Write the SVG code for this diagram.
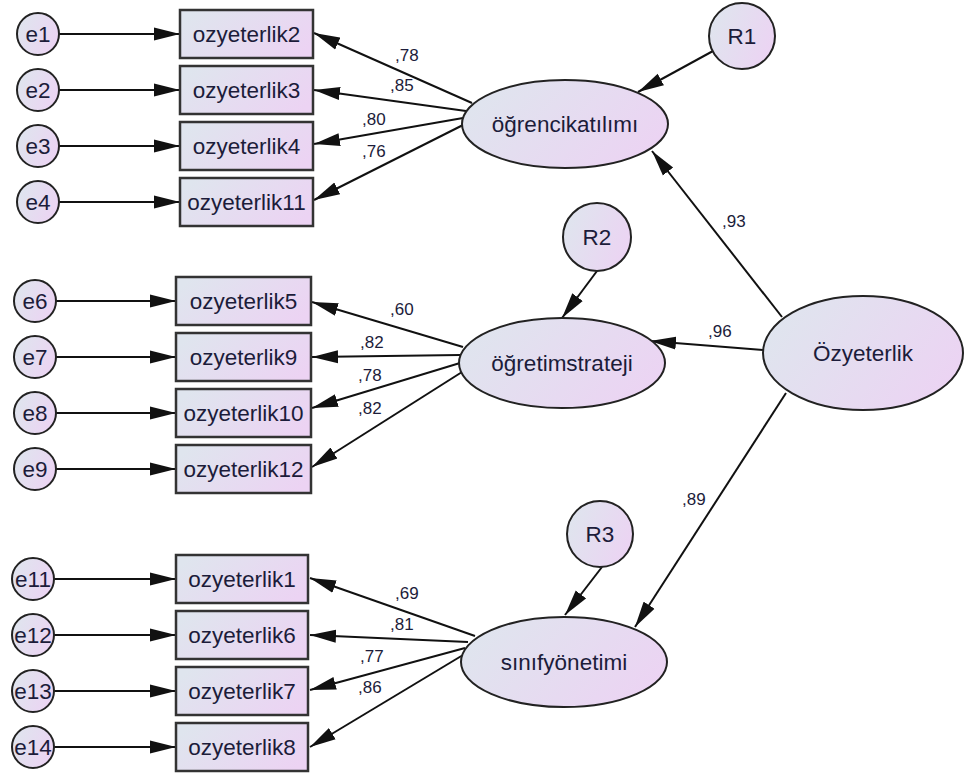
<svg xmlns="http://www.w3.org/2000/svg" width="964" height="773" viewBox="0 0 964 773">
<defs>
<linearGradient id="g" x1="0" y1="0.3" x2="1" y2="0.7">
<stop offset="0" stop-color="#dfe5ee"/>
<stop offset="1" stop-color="#ecd3f3"/>
</linearGradient>
<marker id="ah" markerUnits="userSpaceOnUse" markerWidth="27" markerHeight="15" refX="26" refY="7.5" orient="auto" viewBox="0 0 27 15">
<path d="M0,1 L26,7.5 L0,14 z" fill="#111"/>
</marker>
<style>
.n{fill:url(#g);stroke:#222;stroke-width:2}
.b{fill:url(#g);stroke:#333;stroke-width:2.5}
.t{font-family:"Liberation Sans",Arial,sans-serif;font-size:22.5px;fill:#1c1c3a;text-anchor:middle}
.c{font-family:"Liberation Sans",Arial,sans-serif;font-size:17px;fill:#1c1c3a}
.l{stroke:#111;stroke-width:2;fill:none;marker-end:url(#ah)}
</style>
</defs>
<rect width="964" height="773" fill="#fff"/>
<g id="connectors">
<line class="l" x1="59" y1="34" x2="180" y2="34"/>
<line class="l" x1="59" y1="90" x2="180" y2="90"/>
<line class="l" x1="59" y1="146" x2="180" y2="146"/>
<line class="l" x1="59" y1="202" x2="180" y2="202"/>
<line class="l" x1="56" y1="301" x2="176" y2="301"/>
<line class="l" x1="56" y1="357" x2="176" y2="357"/>
<line class="l" x1="56" y1="413" x2="176" y2="413"/>
<line class="l" x1="56" y1="469" x2="176" y2="469"/>
<line class="l" x1="54" y1="579" x2="176" y2="579"/>
<line class="l" x1="54" y1="635" x2="176" y2="635"/>
<line class="l" x1="54" y1="691" x2="176" y2="691"/>
<line class="l" x1="54" y1="747" x2="176" y2="747"/>
<line class="l" x1="472" y1="103" x2="314" y2="33"/>
<line class="l" x1="466" y1="111" x2="314" y2="90"/>
<line class="l" x1="463" y1="118" x2="314" y2="144"/>
<line class="l" x1="463" y1="125" x2="314" y2="200"/>
<line class="l" x1="463" y1="347" x2="312" y2="302"/>
<line class="l" x1="460" y1="355" x2="312" y2="357"/>
<line class="l" x1="460" y1="363" x2="312" y2="408"/>
<line class="l" x1="462" y1="372" x2="312" y2="467"/>
<line class="l" x1="475" y1="636" x2="310" y2="578"/>
<line class="l" x1="468" y1="642" x2="310" y2="635"/>
<line class="l" x1="465" y1="648" x2="310" y2="690"/>
<line class="l" x1="463" y1="655" x2="310" y2="747"/>
<line class="l" x1="782" y1="317" x2="652" y2="151"/>
<line class="l" x1="763" y1="350" x2="650" y2="341"/>
<line class="l" x1="786" y1="393" x2="635" y2="627"/>
<line class="l" x1="713" y1="51" x2="638" y2="92"/>
<line class="l" x1="597" y1="271" x2="562" y2="318"/>
<line class="l" x1="602" y1="567" x2="565" y2="615"/>
</g>
<g id="labels">
<text class="c" x="395" y="61">,78</text>
<text class="c" x="390" y="91">,85</text>
<text class="c" x="362" y="125">,80</text>
<text class="c" x="362" y="157">,76</text>
<text class="c" x="390" y="315">,60</text>
<text class="c" x="360" y="348">,82</text>
<text class="c" x="358" y="381">,78</text>
<text class="c" x="358" y="414">,82</text>
<text class="c" x="395" y="599">,69</text>
<text class="c" x="390" y="630">,81</text>
<text class="c" x="360" y="662">,77</text>
<text class="c" x="358" y="693">,86</text>
<text class="c" x="722" y="227">,93</text>
<text class="c" x="708" y="337">,96</text>
<text class="c" x="682" y="505">,89</text>
</g>
<g id="e1"><circle class="n" cx="38" cy="34" r="21"/><text class="t" x="38" y="42">e1</text></g>
<g id="e2"><circle class="n" cx="38" cy="90" r="21"/><text class="t" x="38" y="98">e2</text></g>
<g id="e3"><circle class="n" cx="38" cy="146" r="21"/><text class="t" x="38" y="154">e3</text></g>
<g id="e4"><circle class="n" cx="38" cy="202" r="21"/><text class="t" x="38" y="210">e4</text></g>
<g id="e6"><circle class="n" cx="35" cy="301" r="21"/><text class="t" x="35" y="309">e6</text></g>
<g id="e7"><circle class="n" cx="35" cy="357" r="21"/><text class="t" x="35" y="365">e7</text></g>
<g id="e8"><circle class="n" cx="35" cy="413" r="21"/><text class="t" x="35" y="421">e8</text></g>
<g id="e9"><circle class="n" cx="35" cy="469" r="21"/><text class="t" x="35" y="477">e9</text></g>
<g id="e11"><circle class="n" cx="33" cy="579" r="21"/><text class="t" x="33" y="587">e11</text></g>
<g id="e12"><circle class="n" cx="33" cy="635" r="21"/><text class="t" x="33" y="643">e12</text></g>
<g id="e13"><circle class="n" cx="33" cy="691" r="21"/><text class="t" x="33" y="699">e13</text></g>
<g id="e14"><circle class="n" cx="33" cy="747" r="21"/><text class="t" x="33" y="755">e14</text></g>
<g id="oz2"><rect class="b" x="180" y="10" width="133" height="48"/><text class="t" x="246.5" y="42">ozyeterlik2</text></g>
<g id="oz3"><rect class="b" x="180" y="66" width="133" height="48"/><text class="t" x="246.5" y="98">ozyeterlik3</text></g>
<g id="oz4"><rect class="b" x="180" y="122" width="133" height="48"/><text class="t" x="246.5" y="154">ozyeterlik4</text></g>
<g id="oz11"><rect class="b" x="180" y="178" width="133" height="48"/><text class="t" x="246.5" y="210">ozyeterlik11</text></g>
<g id="oz5"><rect class="b" x="176" y="277" width="135" height="48"/><text class="t" x="243.5" y="309">ozyeterlik5</text></g>
<g id="oz9"><rect class="b" x="176" y="333" width="135" height="48"/><text class="t" x="243.5" y="365">ozyeterlik9</text></g>
<g id="oz10"><rect class="b" x="176" y="389" width="135" height="48"/><text class="t" x="243.5" y="421">ozyeterlik10</text></g>
<g id="oz12"><rect class="b" x="176" y="445" width="135" height="48"/><text class="t" x="243.5" y="477">ozyeterlik12</text></g>
<g id="oz1"><rect class="b" x="176" y="555" width="132" height="48"/><text class="t" x="242" y="587">ozyeterlik1</text></g>
<g id="oz6"><rect class="b" x="176" y="611" width="132" height="48"/><text class="t" x="242" y="643">ozyeterlik6</text></g>
<g id="oz7"><rect class="b" x="176" y="667" width="132" height="48"/><text class="t" x="242" y="699">ozyeterlik7</text></g>
<g id="oz8"><rect class="b" x="176" y="723" width="132" height="48"/><text class="t" x="242" y="755">ozyeterlik8</text></g>
<g id="ogrencikatilimi"><ellipse class="n" cx="565" cy="124" rx="103" ry="44"/><text class="t" x="565" y="132">öğrencikatılımı</text></g>
<g id="ogretimstrateji"><ellipse class="n" cx="562" cy="363" rx="103" ry="45"/><text class="t" x="562" y="371">öğretimstrateji</text></g>
<g id="sinifyonetimi"><ellipse class="n" cx="564" cy="662" rx="103" ry="45"/><text class="t" x="564" y="670">sınıfyönetimi</text></g>
<g id="ozyeterlik"><ellipse class="n" cx="863" cy="353" rx="100" ry="57"/><text class="t" x="863" y="361">Özyeterlik</text></g>
<g id="R1"><circle class="n" cx="742" cy="36" r="33"/><text class="t" x="742" y="44">R1</text></g>
<g id="R2"><circle class="n" cx="597" cy="237" r="34"/><text class="t" x="597" y="245">R2</text></g>
<g id="R3"><circle class="n" cx="600" cy="534" r="33"/><text class="t" x="600" y="542">R3</text></g>
</svg>
